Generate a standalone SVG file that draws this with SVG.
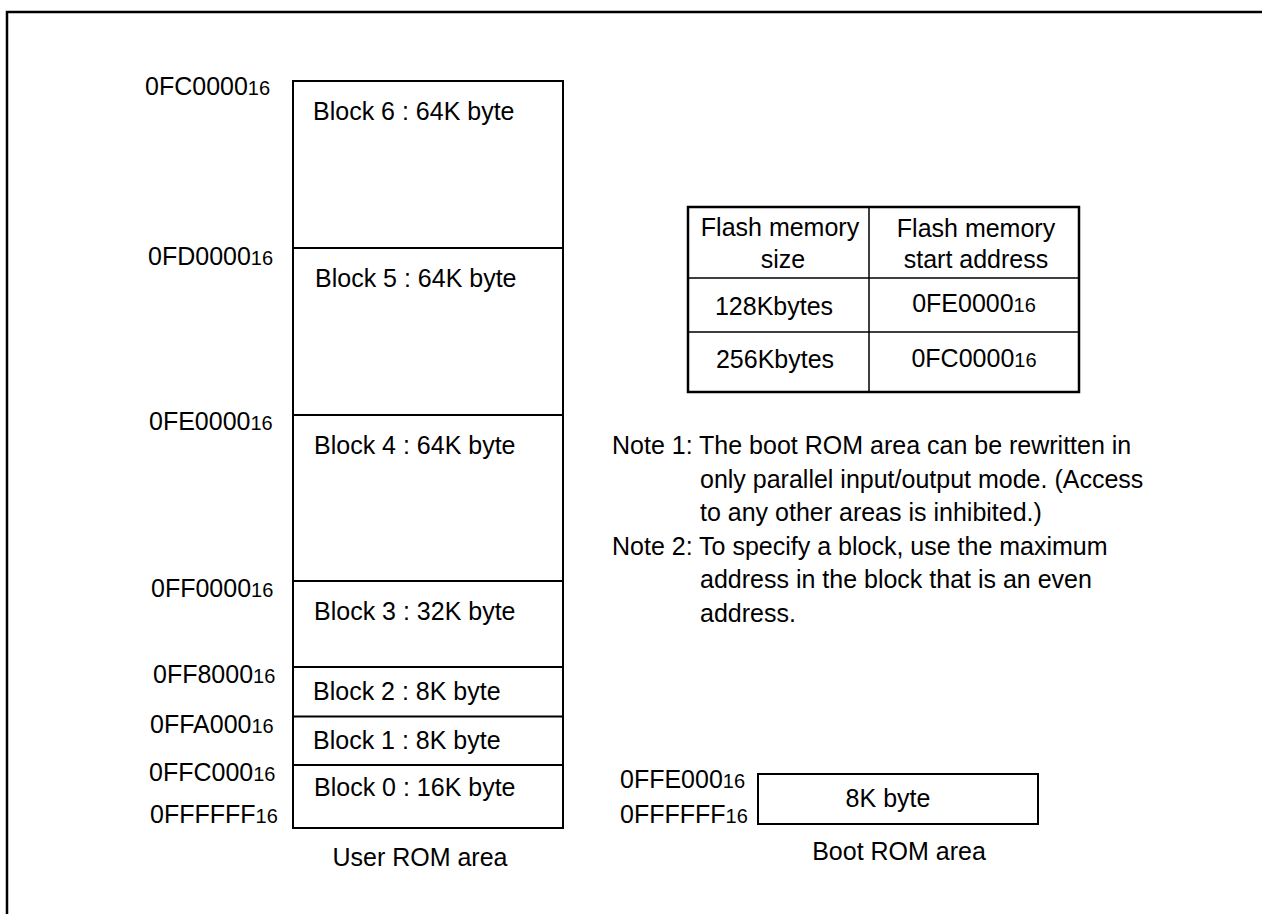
<svg xmlns="http://www.w3.org/2000/svg" width="1262" height="914" viewBox="0 0 1262 914">
<style>
  text { font-family: "Liberation Sans", Arial, sans-serif; font-size: 25px; fill: #000; }
  .sub { font-size: 20px; }
  .mid { text-anchor: middle; }
  .box { fill: none; stroke: #000; stroke-width: 2; }
  .thin { fill: none; stroke: #000; stroke-width: 1.5; }
</style>
<rect width="1262" height="914" fill="#fff"/>
<path d="M7,914 V12 H1262" fill="none" stroke="#000" stroke-width="2.5"/>

<g id="user-rom">
  <rect class="box" x="293" y="81" width="270" height="747"/>
  <path class="box" d="M293,248 H563 M293,415 H563 M293,581 H563 M293,667 H563 M293,716.5 H563 M293,765 H563"/>
  <text x="313" y="120">Block 6 : 64K byte</text>
  <text x="315" y="287">Block 5 : 64K byte</text>
  <text x="314" y="454">Block 4 : 64K byte</text>
  <text x="314" y="620">Block 3 : 32K byte</text>
  <text x="313" y="700">Block 2 : 8K byte</text>
  <text x="313" y="749">Block 1 : 8K byte</text>
  <text x="314" y="796">Block 0 : 16K byte</text>
  <text class="mid" x="420" y="866">User ROM area</text>
</g>

<g id="addresses">
  <text x="145" y="95">0FC0000<tspan class="sub">16</tspan></text>
  <text x="148" y="265">0FD0000<tspan class="sub">16</tspan></text>
  <text x="149" y="430">0FE0000<tspan class="sub">16</tspan></text>
  <text x="151" y="597">0FF0000<tspan class="sub">16</tspan></text>
  <text x="153" y="683">0FF8000<tspan class="sub">16</tspan></text>
  <text x="150" y="733">0FFA000<tspan class="sub">16</tspan></text>
  <text x="149" y="781">0FFC000<tspan class="sub">16</tspan></text>
  <text x="150" y="823">0FFFFFF<tspan class="sub">16</tspan></text>
</g>

<g id="table">
  <rect x="688" y="207" width="391" height="185" fill="none" stroke="#000" stroke-width="2.5"/>
  <path class="thin" d="M869,207 V392 M688,278 H1079 M688,332 H1079"/>
  <text class="mid" x="780" y="236">Flash memory</text>
  <text class="mid" x="783" y="268">size</text>
  <text class="mid" x="976" y="237">Flash memory</text>
  <text class="mid" x="976" y="268">start address</text>
  <text class="mid" x="774" y="315">128Kbytes</text>
  <text class="mid" x="974" y="312">0FE0000<tspan class="sub">16</tspan></text>
  <text class="mid" x="775" y="368">256Kbytes</text>
  <text class="mid" x="974" y="367">0FC0000<tspan class="sub">16</tspan></text>
</g>

<g id="notes">
  <text x="612" y="454">Note 1: The boot ROM area can be rewritten in</text>
  <text x="700" y="488">only parallel input/output mode. (Access</text>
  <text x="700" y="521">to any other areas is inhibited.)</text>
  <text x="612" y="555">Note 2: To specify a block, use the maximum</text>
  <text x="700" y="588">address in the block that is an even</text>
  <text x="700" y="622">address.</text>
</g>

<g id="boot-rom">
  <rect class="box" x="758" y="774" width="280" height="50"/>
  <text class="mid" x="888" y="807">8K byte</text>
  <text x="620" y="788">0FFE000<tspan class="sub">16</tspan></text>
  <text x="620" y="823">0FFFFFF<tspan class="sub">16</tspan></text>
  <text class="mid" x="899" y="860">Boot ROM area</text>
</g>
</svg>
